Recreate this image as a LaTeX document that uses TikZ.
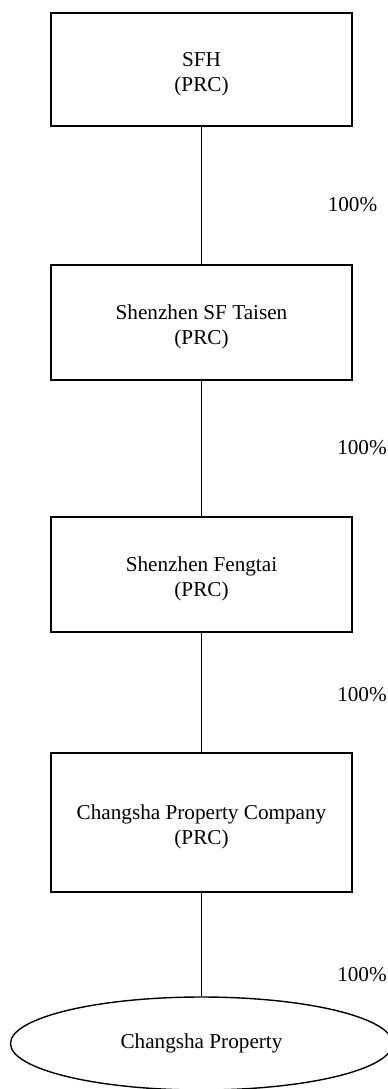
\documentclass[tikz,border=0pt]{standalone}
\usepackage{fontspec}
\setmainfont{Liberation Serif}
\usetikzlibrary{shapes.geometric}
\begin{document}
\begin{tikzpicture}[x=0.5pt,y=-0.5pt,
        entity/.style={draw, line width=0.7pt, minimum width=150.5pt, minimum height=57.5pt, inner sep=0pt, align=center, text height=24pt, font=\fontsize{10.6}{12.4}\selectfont},
        asset/.style={draw, ellipse, line width=0.7pt, minimum width=191pt, minimum height=46.5pt, inner sep=0pt, font=\fontsize{10.6}{12.4}\selectfont},
        share/.style={font=\fontsize{10.6}{12.4}\selectfont, inner sep=0pt}]
        \useasboundingbox (0,0) rectangle (387,1089);
        \node[entity, minimum height=56.5pt] (sfh) at (201.5,69.5) {SFH\\(PRC)};
        \node[entity] (taisen) at (201.5,322.5) {Shenzhen SF Taisen\\(PRC)};
        \node[entity] (fengtai) at (201.5,574.5) {Shenzhen Fengtai\\(PRC)};
        \node[entity, minimum height=69.5pt] (company) at (201.5,822.5) {Changsha Property Company\\(PRC)};
        \node[asset] (property) at (201.5,1043.5) {Changsha Property};
        % shareholdings
        \draw[line width=0.7pt] (sfh) -- (taisen);
        \draw[line width=0.7pt] (taisen) -- (fengtai);
        \draw[line width=0.7pt] (fengtai) -- (company);
        \draw[line width=0.7pt] (company) -- (property);
        \node[share] (p1) at (352.5,205) {100\%};
        \node[share] (p2) at (362,448) {100\%};
        \node[share] (p3) at (362,695) {100\%};
        \node[share] (p4) at (362,975) {100\%};
    \end{tikzpicture}
\end{document}
